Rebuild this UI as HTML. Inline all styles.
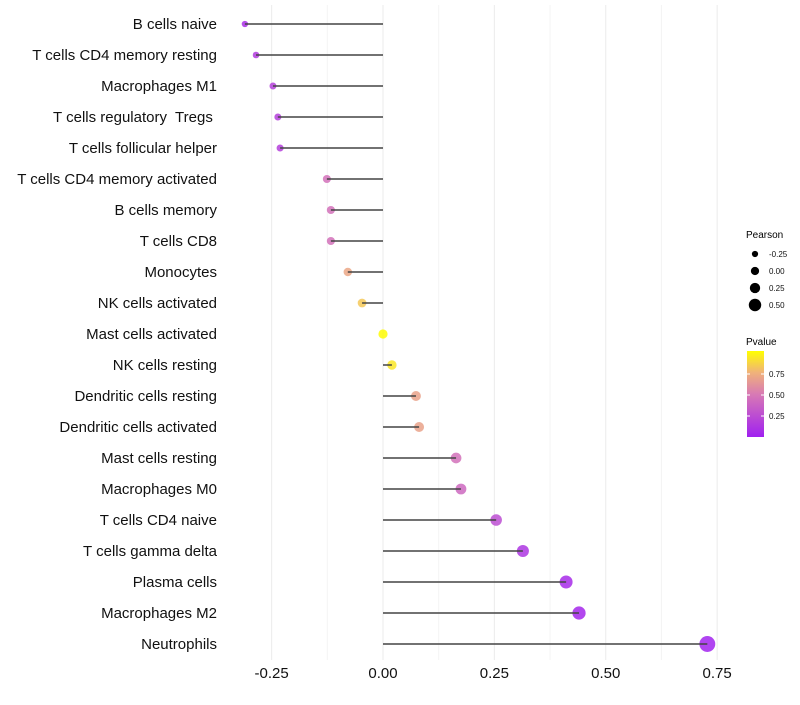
<!DOCTYPE html>
<html><head><meta charset="utf-8"><style>
body{margin:0;background:#fff;font-family:"Liberation Sans",sans-serif;}
svg text{font-family:"Liberation Sans",sans-serif;white-space:pre;}
</style></head><body>
<svg id="chart" width="800" height="700">
<g id="grid"></g>
<g id="marks"></g>
<g id="ylabels"></g>
<g id="xlabels"></g>
<g>
<text x="746" y="238" font-size="10" fill="#000">Pearson</text>
<g id="sizeLegend"></g>
</g>
<g>
<text x="746" y="345" font-size="10" fill="#000">Pvalue</text>
<defs><linearGradient id="pg" x1="0" y1="1" x2="0" y2="0">
<stop offset="0" stop-color="#a020f0"/><stop offset="0.5" stop-color="#d87ab4"/><stop offset="0.75" stop-color="#f0b27a"/><stop offset="1" stop-color="#ffff00"/>
</linearGradient></defs>
<rect x="747" y="351" width="17" height="86" fill="url(#pg)"/>
<g id="pLegend"></g>
</g>
</svg>
<script>
const categories=["B cells naive","T cells CD4 memory resting","Macrophages M1","T cells regulatory  Tregs ","T cells follicular helper","T cells CD4 memory activated","B cells memory","T cells CD8","Monocytes","NK cells activated","Mast cells activated","NK cells resting","Dendritic cells resting","Dendritic cells activated","Mast cells resting","Macrophages M0","T cells CD4 naive","T cells gamma delta","Plasma cells","Macrophages M2","Neutrophils"];
const pearson=[-0.31,-0.285,-0.247,-0.236,-0.231,-0.126,-0.117,-0.117,-0.079,-0.047,0.0,0.02,0.074,0.081,0.164,0.175,0.254,0.314,0.411,0.44,0.728];
const pvalues=[0.08,0.15,0.18,0.18,0.18,0.45,0.45,0.45,0.7,0.82,0.99,0.92,0.68,0.68,0.45,0.4,0.25,0.12,0.06,0.04,0.02];
const xTicks=[-0.25,0,0.25,0.5,0.75];
const xTickLabels=["-0.25","0.00","0.25","0.50","0.75"];
const sizeLegendValues=[-0.25,0,0.25,0.5];
const sizeLegendLabels=["-0.25","0.00","0.25","0.50"];
const pLegendValues=[0.25,0.5,0.75];
const pLegendLabels=["0.25","0.50","0.75"];

const NS="http://www.w3.org/2000/svg";
const x=v=>383+v*445.5;
const y=i=>24+i*31;
const r=v=>Math.max(2,4.6+4.6*v);
function lerp(a,b,t){return a.map((c,i)=>Math.round(c+(b[i]-c)*t));}
const stops=[[0,[160,32,240]],[0.5,[216,122,180]],[0.75,[240,178,122]],[1,[255,255,0]]];
function color(p){for(let k=1;k<stops.length;k++){if(p<=stops[k][0]){const t=(p-stops[k-1][0])/(stops[k][0]-stops[k-1][0]);const c=lerp(stops[k-1][1],stops[k][1],t);return `rgb(${c})`;}}return "rgb(255,255,0)";}
function mk(tag,attrs,parent){const e=document.createElementNS(NS,tag);for(const k in attrs)e.setAttribute(k,attrs[k]);parent.appendChild(e);return e;}
const grid=document.getElementById('grid'),marks=document.getElementById('marks'),yl=document.getElementById('ylabels'),xl=document.getElementById('xlabels');
for(let k=0;k<xTicks.length;k++){
  const g=mk('line',{x1:x(xTicks[k]),x2:x(xTicks[k]),y1:5,y2:660,stroke:'#ebebeb','stroke-width':1},grid);
  
  
  if(k<xTicks.length-1){const m=(xTicks[k]+xTicks[k+1])/2;
    const g2=mk('line',{x1:x(m),x2:x(m),y1:5,y2:660,stroke:'#f4f4f4','stroke-width':1},grid);
    
    }
  const t=mk('text',{x:x(xTicks[k]),y:678,'font-size':15,'text-anchor':'middle',fill:'#111'},xl);
  t.textContent=xTickLabels[k];
  
  
}
categories.forEach((c,i)=>{
  const t=mk('text',{x:217,y:y(i)+5,'font-size':15,'text-anchor':'end',fill:'#111','xml:space':'preserve'},yl);
  t.textContent=c;
  
  
  const pt=mk('circle',{cx:x(pearson[i]),cy:y(i),r:r(pearson[i]),fill:color(pvalues[i]),'fill-opacity':0.85},marks);
  
  
  const ln=mk('line',{x1:x(0),x2:x(pearson[i]),y1:y(i),y2:y(i),stroke:'#444','stroke-width':1.5},marks);
  
  
});
const sl=document.getElementById('sizeLegend');
sizeLegendValues.forEach((v,k)=>{
  const cy=254+k*17;
  const c=mk('circle',{cx:755,cy:cy,r:r(v)*0.9,fill:'#000'},sl);
  
  
  const t=mk('text',{x:769,y:cy+3,'font-size':8,fill:'#111'},sl);
  t.textContent=sizeLegendLabels[k];
  
  
});
const pl=document.getElementById('pLegend');
pLegendValues.forEach((v,k)=>{
  const yy=437-v*84;
  const l=mk('line',{x1:747,x2:750,y1:yy,y2:yy,stroke:'#fff','stroke-width':1},pl);
  
  
  const l2=mk('line',{x1:761,x2:764,y1:yy,y2:yy,stroke:'#fff','stroke-width':1},pl);
  
  
  const t=mk('text',{x:769,y:yy+3,'font-size':8,fill:'#111'},pl);
  t.textContent=pLegendLabels[k];
  
  
});
</script>
</body></html>
